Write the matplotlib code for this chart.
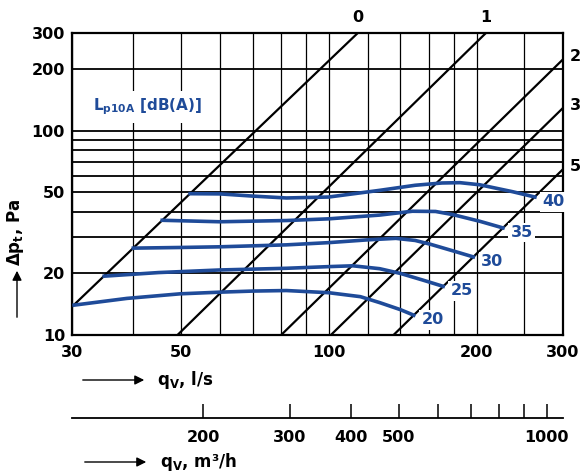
import matplotlib
matplotlib.use('Agg')
import matplotlib.pyplot as plt

# grid and tick values (flow q in l/s, pressure dp in Pa)
x_grid = [30, 40, 50, 60, 70, 80, 90, 100, 120, 140, 160, 180, 200, 250, 300]
y_grid = [10, 20, 30, 40, 50, 60, 70, 80, 90, 100, 200, 300]
x_ticks = [30, 50, 100, 200, 300]
y_ticks = [10, 20, 50, 100, 200, 300]

# secondary scale in m3/h
m3h_ticks = [200, 300, 400, 500, 600, 700, 800, 900, 1000]
m3h_labels = ['200', '300', '400', '500', '', '', '', '', '1000']

# damper position lines, (start, end)
pos_names = ['0', '1', '2', '3', '5']
pos_q = [(30, 114.6), (49.2, 209), (80, 300), (101, 300), (135.5, 300)]
pos_dp = [(13.75, 300), (10, 300), (10, 223), (10, 129), (10, 64.7)]

# sound level curves Lp10A
q20 = [30.3, 38.8, 49.8, 60, 70, 82, 100, 116, 127, 140, 149]
dp20 = [14.0, 15.1, 15.9, 16.2, 16.4, 16.5, 16.1, 15.4, 14.4, 13.3, 12.5]
q25 = [34.9, 45, 60, 82, 100, 112, 127, 140, 155, 171]
dp25 = [19.4, 20.2, 20.8, 21.2, 21.6, 21.8, 21.1, 20.0, 18.6, 17.3]
q30 = [40, 50, 60, 82, 100, 120, 137, 150, 161, 180, 197]
dp30 = [26.6, 26.8, 27.0, 27.6, 28.3, 29.2, 29.7, 29.0, 27.8, 25.7, 24.1]
q35 = [45.8, 60, 82, 100, 127, 148, 165, 179, 203, 226.4]
dp35 = [36.4, 35.8, 36.3, 37.0, 38.6, 40.3, 40.2, 38.8, 36.0, 33.4]
q40 = [52.2, 60, 70, 82, 100, 127, 150, 170, 185, 203, 237, 263]
dp40 = [49.1, 49.0, 47.8, 46.8, 47.3, 51.0, 54.0, 55.4, 55.6, 54.3, 50.2, 47.3]
lp_names = ['20', '25', '30', '35', '40']
lp_q = [q20, q25, q30, q35, q40]
lp_dp = [dp20, dp25, dp30, dp35, dp40]

blue = '#1f4b99'
plt.rcParams['font.family'] = 'DejaVu Sans'
plt.rcParams['font.weight'] = 'bold'
plt.rcParams['mathtext.default'] = 'regular'

fig = plt.figure(figsize=(5.83, 4.74), dpi=100)
ax = fig.add_axes([72/583, 1-335/474, 491/583, 302/474])
ax.set_xscale('log')
ax.set_yscale('log')
ax.set_xlim(30, 300)
ax.set_ylim(10, 300)

for v in x_grid:
    ax.axvline(v, color='black', lw=0.9, zorder=1)
for v in y_grid:
    ax.axhline(v, color='black', lw=1.3, zorder=1)

for name, q, dp in zip(pos_names, pos_q, pos_dp):
    ax.plot(q, dp, color='black', lw=1.6, zorder=2, solid_capstyle='butt')
    if dp[1] >= 300:
        ax.annotate(name, (q[1], dp[1]), xytext=(0, 6), textcoords='offset points',
                    ha='center', va='bottom', fontsize=11.5)
    else:
        ax.annotate(name, (q[1], dp[1]), xytext=(5, 2), textcoords='offset points',
                    ha='left', va='center', fontsize=11.5, annotation_clip=False)

for name, q, dp in zip(lp_names, lp_q, lp_dp):
    ax.plot(q, dp, color=blue, lw=2.6, zorder=3, solid_joinstyle='round')
    ax.annotate(name, (q[-1], dp[-1]), xytext=(5.5, -3.3), textcoords='offset points',
                ha='left', va='center', fontsize=11.5, color=blue, zorder=4,
                bbox=dict(boxstyle='square,pad=0.15', fc='white', ec='none'))

ax.text(0.043, 0.755, r'L$_{p10A}$ [dB(A)]', transform=ax.transAxes, color=blue,
        fontsize=11, va='center', ha='left', zorder=4,
        bbox=dict(boxstyle='square,pad=0.35', fc='white', ec='none'))

ax.set_xticks(x_ticks)
ax.set_xticklabels([str(v) for v in x_ticks])
ax.set_yticks(y_ticks)
ax.set_yticklabels([str(v) for v in y_ticks])
ax.minorticks_off()
ax.tick_params(length=0, labelsize=11.5, pad=7)
ax.tick_params(axis='y', pad=5)
for s in ax.spines.values():
    s.set_linewidth(1.6)

# secondary flow scale
ax2 = fig.add_axes([72/583, 1-417.7/474, 491/583, 0.0001])
ax2.set_xscale('log')
ax2.set_xlim(30*3.6, 300*3.6)
ax2.set_xticks(m3h_ticks)
ax2.set_xticklabels(m3h_labels)
ax2.minorticks_off()
ax2.set_yticks([])
for k in ['top', 'left', 'right']:
    ax2.spines[k].set_visible(False)
ax2.spines['bottom'].set_linewidth(1.3)
ax2.tick_params(axis='x', direction='in', length=10, width=1.1, labelsize=11.5, pad=9)

# axis titles with arrows
arr = dict(arrowstyle='-|>', color='black', lw=1, mutation_scale=14)
fig.add_artist(matplotlib.patches.FancyArrowPatch((80/583, 1-380/474), (147/583, 1-380/474),
               transform=fig.transFigure, **arr))
fig.text(157/583, 1-380/474, r'q$_V$, l/s', fontsize=12, va='center', ha='left')
fig.add_artist(matplotlib.patches.FancyArrowPatch((82/583, 1-462/474), (149/583, 1-462/474),
               transform=fig.transFigure, **arr))
fig.text(160/583, 1-462/474, r'q$_V$, m³/h', fontsize=12, va='center', ha='left')
fig.add_artist(matplotlib.patches.FancyArrowPatch((17/583, 1-320/474), (17/583, 1-268/474),
               transform=fig.transFigure, **arr))
fig.text(15/583, 1-232/474, r'Δp$_t$, Pa', fontsize=12, va='center', ha='center', rotation=90)

fig.savefig('out.png', dpi=100)
